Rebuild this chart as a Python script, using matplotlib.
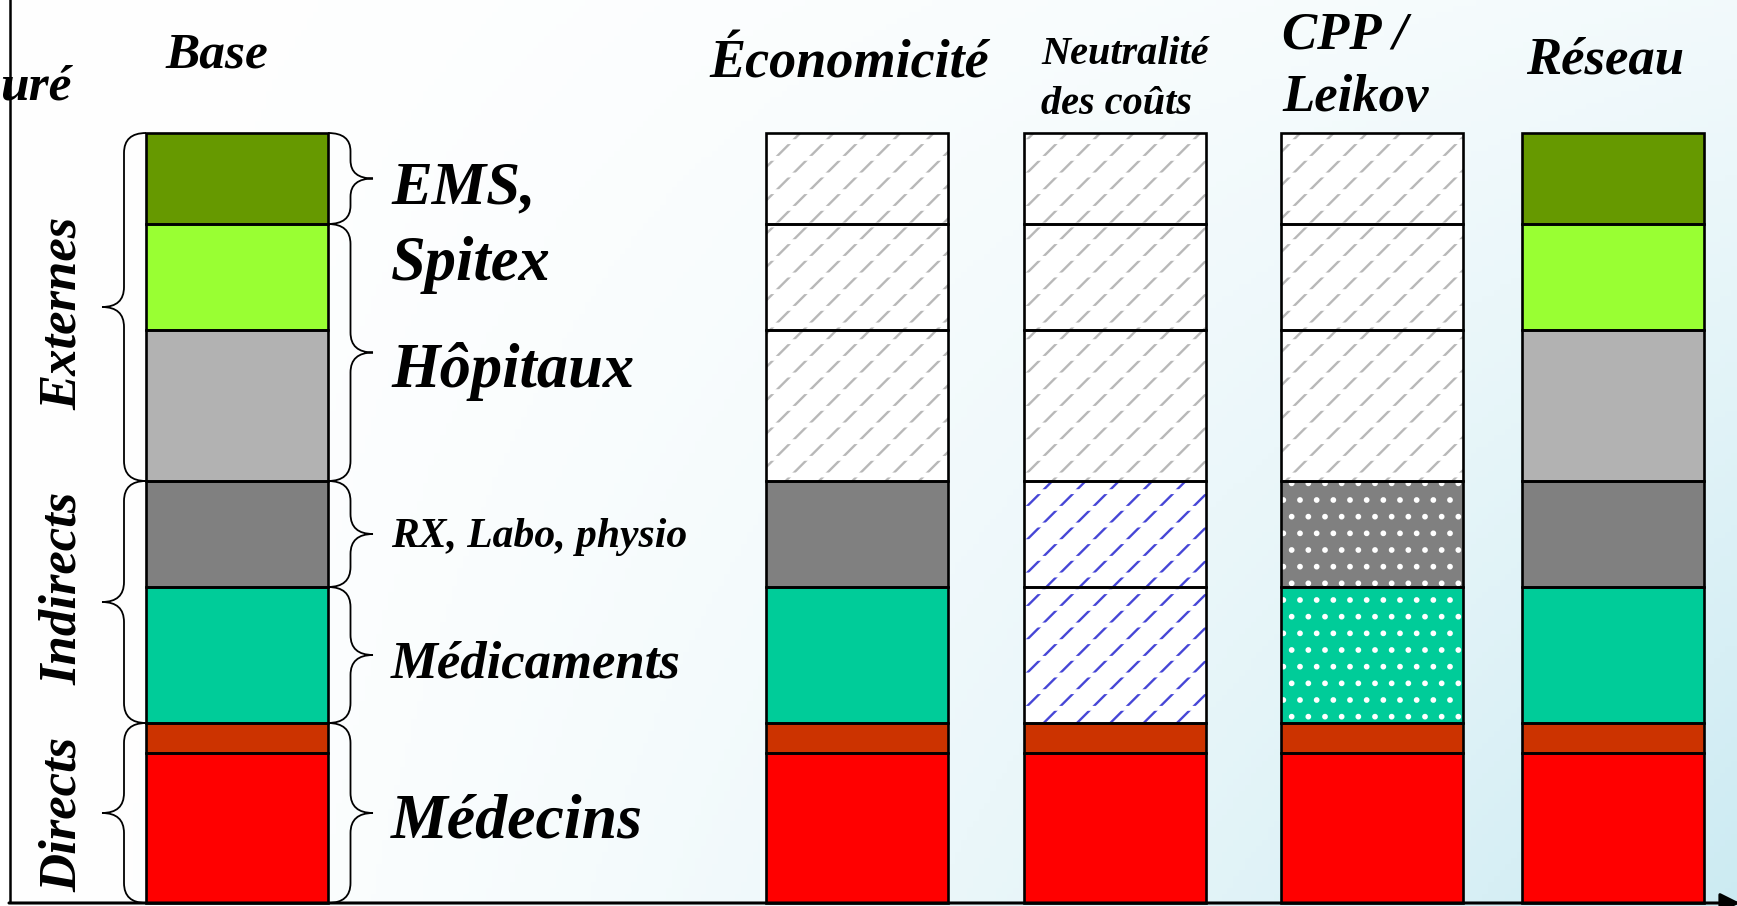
import numpy as np
import matplotlib
matplotlib.use("Agg")
import matplotlib.pyplot as plt
from matplotlib.path import Path
from matplotlib.patches import PathPatch


# =========================
# DATA
# =========================

# cost blocks, stacked from the bottom up
segments = ["Médecins", "Directs (autres)", "Médicaments", "RX, Labo, physio",
            "Hôpitaux", "Spitex", "EMS"]
heights = [150, 30, 136, 106, 151, 106, 91]
colors = ["#ff0000", "#cc3300", "#00cc99", "#808080",
          "#b2b2b2", "#99ff33", "#669900"]

scenarios = ["Base", "Économicité", "Neutralité\ndes coûts", "CPP /\nLeikov", "Réseau"]

# how each block is drawn in each scenario
styles = [
    ["plain"] * 7,
    ["plain", "plain", "plain", "plain", "gray", "gray", "gray"],
    ["plain", "plain", "blue", "blue", "gray", "gray", "gray"],
    ["plain", "plain", "dots", "dots", "gray", "gray", "gray"],
    ["plain"] * 7,
]

# groups shown with braces (indices into segments)
left_groups = [("Externes", [4, 5, 6]), ("Indirects", [2, 3]), ("Directs", [0, 1])]
right_groups = [[6], [4, 5], [3], [2], [0, 1]]


# =========================
# LAYOUT
# =========================

W, H = 1737, 906
BASE_Y = 903
bar_x = [237, 857, 1114.5, 1371.5, 1613]
bar_w = 182

plt.rcParams["font.family"] = ["Liberation Serif", "DejaVu Serif"]
plt.rcParams["hatch.linewidth"] = 1.7

fig = plt.figure(figsize=(W / 100, H / 100), dpi=100)
ax = fig.add_axes([0, 0, 1, 1])
ax.set_xlim(0, W)
ax.set_ylim(BASE_Y - H, BASE_Y)
ax.axis("off")


# =========================
# BACKGROUND
# =========================

gx, gy = np.meshgrid(np.linspace(0, 1, 300), np.linspace(0, 1, 150))
f = np.clip(gx ** 1.5 * (0.25 + 0.75 * (1 - gy)), 0, 1)[..., None]
tint = np.array([0.80, 0.92, 0.95])
img = (1 - f) * np.ones(3) + f * tint
ax.imshow(img, extent=(0, W, BASE_Y - H, BASE_Y), origin="lower",
          aspect="auto", zorder=0)


# =========================
# BARS
# =========================

bottoms = np.concatenate([[0], np.cumsum(heights)[:-1]])
tops = bottoms + np.array(heights)

for i, x in enumerate(bar_x):
    for j, h in enumerate(heights):
        st = styles[i][j]
        if st == "plain":
            face, hcol, hatch = colors[j], colors[j], None
        elif st == "gray":
            face, hcol, hatch = "white", "#b8b8b8", "/"
        elif st == "blue":
            face, hcol, hatch = "white", "#4646d6", "/"
        else:
            face, hcol, hatch = colors[j], "white", "."
        ax.bar(x, h, bottom=bottoms[j], width=bar_w, color=face,
               edgecolor=hcol, hatch=hatch, linewidth=0, zorder=2)
        if st in ("gray", "blue"):
            # break the diagonal lines into short dashes
            with plt.rc_context({"hatch.linewidth": 3.5}):
                ax.bar(x, h, bottom=bottoms[j], width=bar_w, color="none",
                       edgecolor=face, hatch="-", linewidth=0, zorder=2.5)
        ax.bar(x, h, bottom=bottoms[j], width=bar_w, color="none",
               edgecolor="black", linewidth=1.9, zorder=3)


# =========================
# BRACES
# =========================

def brace(x_end, x_tip, y0, y1):
    x_mid = (x_end + x_tip) / 2
    yt = (y0 + y1) / 2
    r = min(20, (y1 - y0) / 5)
    verts = [(x_end, y1), (x_mid, y1), (x_mid, y1 - r),
             (x_mid, yt + r), (x_mid, yt), (x_tip, yt),
             (x_mid, yt), (x_mid, yt - r),
             (x_mid, y0 + r), (x_mid, y0), (x_end, y0)]
    codes = [Path.MOVETO, Path.CURVE3, Path.CURVE3,
             Path.LINETO, Path.CURVE3, Path.CURVE3,
             Path.CURVE3, Path.CURVE3,
             Path.LINETO, Path.CURVE3, Path.CURVE3]
    ax.add_patch(PathPatch(Path(verts, codes), fill=False, lw=1.3,
                           edgecolor="black", zorder=4))

left_edge = bar_x[0] - bar_w / 2
right_edge = bar_x[0] + bar_w / 2

for name, idx in left_groups:
    brace(left_edge, left_edge - 44, bottoms[min(idx)], tops[max(idx)])
for idx in right_groups:
    brace(right_edge, right_edge + 45, bottoms[min(idx)], tops[max(idx)])


# =========================
# AXES LINES
# =========================

ax.plot([10, 10], [0, BASE_Y + 10], color="black", lw=1.8, zorder=5,
        solid_capstyle="butt")
ax.annotate("", xy=(W + 3, 0), xytext=(9, 0), annotation_clip=False,
            arrowprops=dict(arrowstyle="-|>", color="black", lw=2.2,
                            mutation_scale=30, shrinkA=0, shrinkB=0),
            zorder=5)


# =========================
# TEXT
# =========================

bi = dict(fontweight="bold", fontstyle="italic", color="black", zorder=6)

def py(p):
    # pixel row from top -> data y
    return BASE_Y - p

ax.text(71, py(100), "uré", ha="right", va="baseline", fontsize=37, **bi)
ax.text(217, py(68), scenarios[0], ha="center", va="baseline", fontsize=37, **bi)
ax.text(849, py(78), scenarios[1], ha="center", va="baseline", fontsize=39, **bi)
ax.text(1041, py(114), scenarios[2], ha="left", va="baseline", fontsize=29,
        linespacing=1.45, **bi)
ax.text(1282, py(111), scenarios[3], ha="left", va="baseline", fontsize=38,
        linespacing=1.4, **bi)
ax.text(1605, py(74), scenarios[4], ha="center", va="baseline", fontsize=38, **bi)

# labels right of the base bar
right_labels = [("EMS,", 203, 44), ("Spitex", 280, 45), ("Hôpitaux", 387, 45),
                ("RX, Labo, physio", 547, 30), ("Médicaments", 677, 38),
                ("Médecins", 838, 46)]
for txt, p, fs in right_labels:
    ax.text(391, py(p), txt, ha="left", va="baseline", fontsize=fs, **bi)

# group labels left of the base bar
left_pos = [313, 588, 814]
for (name, idx), p in zip(left_groups, left_pos):
    ax.text(63, py(p), name, rotation=90, ha="center", va="center",
            fontsize=38, **bi)

fig.savefig("out.png", dpi=100)
